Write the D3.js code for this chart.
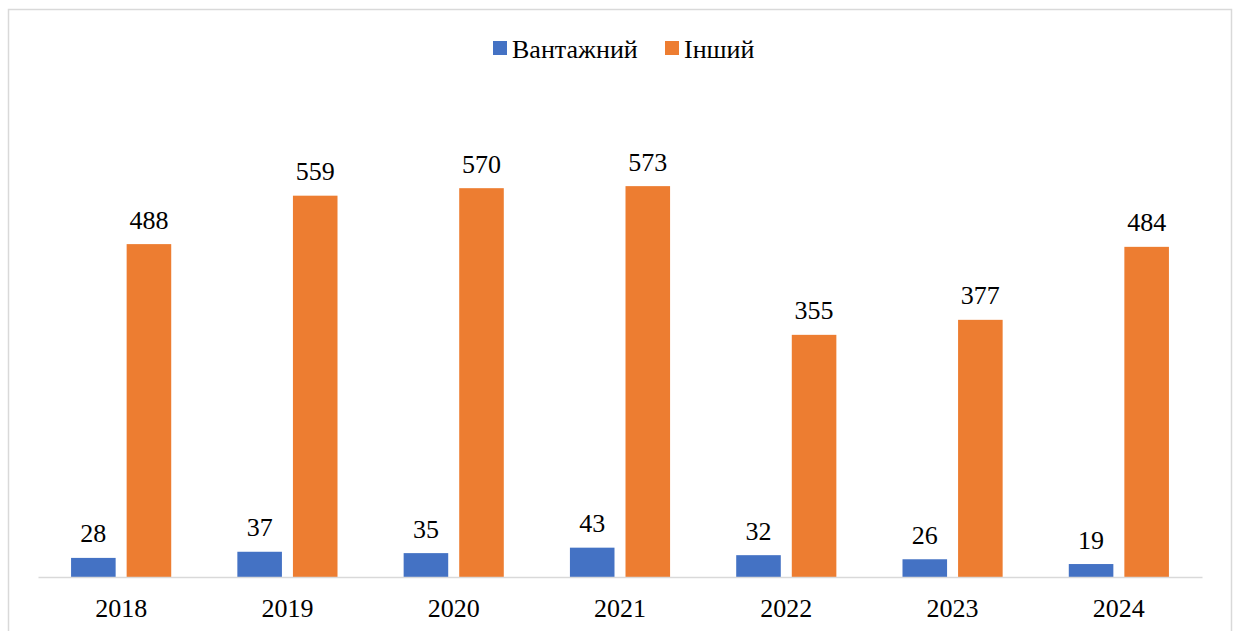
<!DOCTYPE html>
<html>
<head>
<meta charset="utf-8">
<script src="https://cdn.jsdelivr.net/npm/d3@7"></script>
</head>
<body style="margin:0;background:#fff">
<svg width="1237" height="631" style="display:block"></svg>
<script>
// data
var years = ["2018", "2019", "2020", "2021", "2022", "2023", "2024"]
var series = ["Вантажний", "Інший"]
var cargo = [28, 37, 35, 43, 32, 26, 19]
var other = [488, 559, 570, 573, 355, 377, 484]
var colors = ["#4472C4", "#ED7D31"]

var FONT = "Tinos, 'Liberation Serif', 'Times New Roman', serif"
var svg = d3.select("svg")

// chart frame
svg.append("rect")
  .attr("x", 8.5).attr("y", 9.5)
  .attr("width", 1223).attr("height", 640)
  .attr("fill", "none")
  .attr("stroke", "#d9d9d9")
  .attr("stroke-width", 1.5)

var x0 = d3.scaleBand().domain(years).range([38, 1202])
var x1 = d3.scaleBand().domain(series).range([0, x0.bandwidth()])
  .paddingInner(0.198).paddingOuter(0.595)
var y = d3.scaleLinear().domain([0, 700]).range([577, 99.5])

var rows = years.map(function(yr, i) {
  return { year: yr, values: [cargo[i], other[i]] }
})

var groups = svg.selectAll("g.year")
  .data(rows)
  .enter().append("g")
    .attr("class", "year")
    .attr("transform", function(d) { return "translate(" + x0(d.year) + ",0)" })

var cells = groups.selectAll("g.cell")
  .data(function(d) { return d.values.map(function(v, j) { return { s: series[j], v: v, j: j } }) })
  .enter().append("g").attr("class", "cell")

cells.append("rect")
  .attr("x", function(d) { return x1(d.s) })
  .attr("y", function(d) { return y(d.v) })
  .attr("width", x1.bandwidth())
  .attr("height", function(d) { return y(0) - y(d.v) })
  .style("fill", function(d) { return colors[d.j] })

cells.append("text")
  .attr("x", function(d) { return x1(d.s) + x1.bandwidth() / 2 })
  .attr("y", function(d) { return y(d.v) - 15.5 })
  .attr("text-anchor", "middle")
  .style("font-family", FONT)
  .style("font-size", "26px")
  .attr("fill", "#000")
  .text(function(d) { return d.v })

// x axis
var xAxis = svg.append("g")
  .attr("transform", "translate(0,577)")
  .call(d3.axisBottom(x0).tickSize(0).tickPadding(21.5))
xAxis.attr("font-family", null).attr("font-size", null)
xAxis.select(".domain").attr("stroke", "#d9d9d9").attr("stroke-width", 1.5)
xAxis.selectAll("text")
  .style("font-family", FONT)
  .style("font-size", "26px")
  .attr("fill", "#000")

// legend (item offsets fixed, no text measuring)
var legendX = [493, 665]
var legend = svg.append("g")
var items = legend.selectAll("g")
  .data(series)
  .enter().append("g")
    .attr("transform", function(d, i) { return "translate(" + legendX[i] + ",0)" })
items.append("rect")
  .attr("x", 0).attr("y", 41)
  .attr("width", 14).attr("height", 14)
  .attr("fill", function(d, i) { return colors[i] })
items.append("text")
  .attr("x", 19).attr("y", 58)
  .style("font-family", FONT)
  .style("font-size", "26px")
  .attr("fill", "#000")
  .text(function(d) { return d })
</script>
</body>
</html>
